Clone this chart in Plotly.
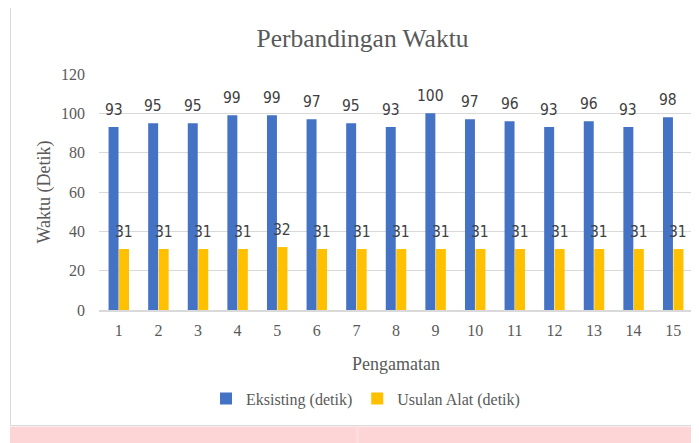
import plotly.graph_objects as go

categories = [str(i) for i in range(1, 16)]
eksisting = [93, 95, 95, 99, 99, 97, 95, 93, 100, 97, 96, 93, 96, 93, 98]
usulan = [31, 31, 31, 31, 32, 31, 31, 31, 31, 31, 31, 31, 31, 31, 31]
y_ticks = [0, 20, 40, 60, 80, 100, 120]

# page has an 8px body margin; figure is sized to fit the 699x443 window
OFF = 8
W, H = 699 - OFF, 443 - OFF
PL, PR, PT, PB = 99, 693, 74, 310  # plot area in screen pixels
L, R, T, B = PL - OFF, (OFF + W) - PR, PT - OFF, (OFF + H) - PB
PW, PH = PR - PL, PB - PT

def px_x(p):
    return (p - PL) / PW

def px_y(p):
    return (PB - p) / PH

SERIF = "Liberation Serif, Times New Roman, serif"
LABEL_FONT = "DejaVu Sans Condensed, Liberation Sans, sans-serif"

xpos = list(range(1, len(categories) + 1))

fig = go.Figure()
fig.add_trace(go.Bar(x=xpos, y=eksisting, name="Eksisting (detik)",
                     marker=dict(color="#4472C4", line=dict(width=0))))
fig.add_trace(go.Bar(x=xpos, y=usulan, name="Usulan Alat (detik)",
                     marker=dict(color="#FFC000", line=dict(width=0))))

annotations = []
for c, v in zip(xpos, eksisting):
    annotations.append(dict(x=c, y=v, xref="x", yref="y", text=str(v), showarrow=False,
                            yanchor="bottom", xanchor="center", xshift=-5.25, yshift=6,
                            font=dict(family=LABEL_FONT, size=15.5, color="#404040")))
for c, v in zip(xpos, usulan):
    annotations.append(dict(x=c, y=v, xref="x", yref="y", text=str(v), showarrow=False,
                            yanchor="bottom", xanchor="center", xshift=5.25, yshift=6,
                            font=dict(family=LABEL_FONT, size=15.5, color="#404040")))

shapes = [
    dict(type="rect", xref="paper", yref="paper", layer="below",
         x0=px_x(10.5), x1=px_x(720), y0=px_y(425.5), y1=px_y(7.5),
         line=dict(color="#D9D9D9", width=1), fillcolor="white"),
    dict(type="rect", xref="paper", yref="paper", layer="below",
         x0=px_x(10), x1=px_x(720), y0=px_y(450), y1=px_y(426.5),
         line=dict(width=0), fillcolor="#FDD5D7"),
    dict(type="rect", xref="paper", yref="paper", layer="below",
         x0=px_x(356), x1=px_x(359), y0=px_y(450), y1=px_y(426.5),
         line=dict(width=0), fillcolor="#FCDCDD"),
]

fig.update_layout(
    width=W, height=H,
    margin=dict(l=L, r=R, t=T, b=B, autoexpand=False),
    paper_bgcolor="white", plot_bgcolor="rgba(0,0,0,0)",
    barmode="group", bargap=0.47, bargroupgap=0.05,
    title=dict(text="Perbandingan Waktu", x=(362.5 - OFF) / W, xanchor="center", xref="container",
               y=1 - (37.8 - OFF) / H, yanchor="middle", yref="container",
               font=dict(family=SERIF, size=25.5, color="#595959")),
    xaxis=dict(range=[0.5, len(categories) + 0.5], tickvals=xpos, ticktext=categories,
               showline=True, linecolor="#D9D9D9", linewidth=1.5,
               showgrid=False, zeroline=False, ticks="", ticklabelstandoff=5,
               tickfont=dict(family=SERIF, size=16, color="#595959"),
               title=dict(text="Pengamatan", standoff=19,
                          font=dict(family=SERIF, size=18, color="#595959"))),
    yaxis=dict(range=[0, 120], tickvals=y_ticks, showline=False, zeroline=False,
               showgrid=True, gridcolor="#D9D9D9", gridwidth=1, ticks="",
               ticklabelstandoff=13,
               tickfont=dict(family=SERIF, size=16, color="#595959"),
               title=dict(text="Waktu (Detik)", standoff=5,
                          font=dict(family=SERIF, size=18, color="#595959"))),
    legend=dict(orientation="h", x=px_x(206), xanchor="left", y=px_y(398.7), yanchor="middle",
                font=dict(family=SERIF, size=16, color="#595959"), bgcolor="rgba(0,0,0,0)",
                itemwidth=30, traceorder="normal"),
    showlegend=True,
    annotations=annotations,
    shapes=shapes,
)

fig.write_html("out.html")
